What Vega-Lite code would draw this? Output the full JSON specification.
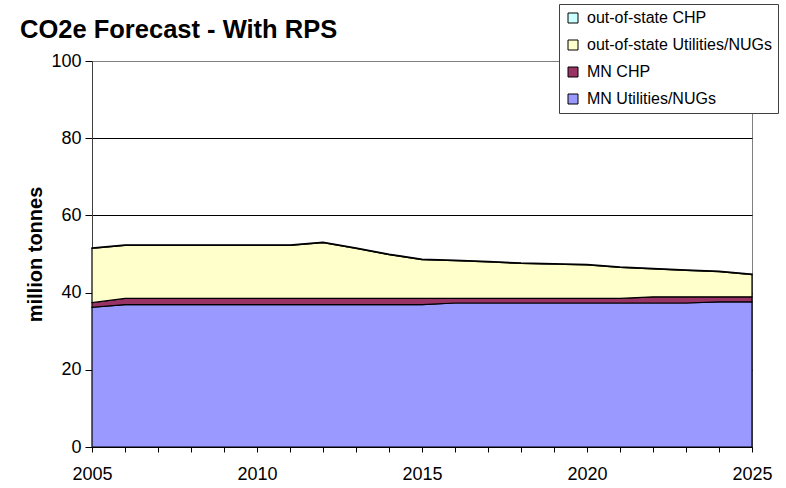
{
  "$schema": "https://vega.github.io/schema/vega-lite/v6.json",
  "width": 660,
  "height": 386,
  "autosize": {"type": "none"},
  "padding": {"left": 92, "top": 61, "right": 34, "bottom": 41},
  "background": "white",
  "title": {
    "text": "CO2e Forecast - With RPS",
    "anchor": "start",
    "frame": "group",
    "dx": -72,
    "dy": 60,
    "offset": 20,
    "font": "Liberation Sans",
    "fontSize": 25.5,
    "fontWeight": "bold",
    "color": "black"
  },
  "data": {
    "values": [
      {"year": 2005, "MN Utilities/NUGs": 36.2, "MN CHP": 1.2, "out-of-state Utilities/NUGs": 14.05, "out-of-state CHP": 0.15},
      {"year": 2006, "MN Utilities/NUGs": 36.9, "MN CHP": 1.6, "out-of-state Utilities/NUGs": 13.75, "out-of-state CHP": 0.15},
      {"year": 2007, "MN Utilities/NUGs": 36.9, "MN CHP": 1.6, "out-of-state Utilities/NUGs": 13.75, "out-of-state CHP": 0.15},
      {"year": 2008, "MN Utilities/NUGs": 36.9, "MN CHP": 1.6, "out-of-state Utilities/NUGs": 13.75, "out-of-state CHP": 0.15},
      {"year": 2009, "MN Utilities/NUGs": 36.9, "MN CHP": 1.6, "out-of-state Utilities/NUGs": 13.75, "out-of-state CHP": 0.15},
      {"year": 2010, "MN Utilities/NUGs": 36.9, "MN CHP": 1.6, "out-of-state Utilities/NUGs": 13.75, "out-of-state CHP": 0.15},
      {"year": 2011, "MN Utilities/NUGs": 36.9, "MN CHP": 1.6, "out-of-state Utilities/NUGs": 13.75, "out-of-state CHP": 0.15},
      {"year": 2012, "MN Utilities/NUGs": 36.9, "MN CHP": 1.6, "out-of-state Utilities/NUGs": 14.45, "out-of-state CHP": 0.15},
      {"year": 2013, "MN Utilities/NUGs": 36.9, "MN CHP": 1.6, "out-of-state Utilities/NUGs": 12.95, "out-of-state CHP": 0.15},
      {"year": 2014, "MN Utilities/NUGs": 36.9, "MN CHP": 1.6, "out-of-state Utilities/NUGs": 11.35, "out-of-state CHP": 0.15},
      {"year": 2015, "MN Utilities/NUGs": 36.9, "MN CHP": 1.6, "out-of-state Utilities/NUGs": 10.05, "out-of-state CHP": 0.15},
      {"year": 2016, "MN Utilities/NUGs": 37.3, "MN CHP": 1.2, "out-of-state Utilities/NUGs": 9.75, "out-of-state CHP": 0.15},
      {"year": 2017, "MN Utilities/NUGs": 37.3, "MN CHP": 1.2, "out-of-state Utilities/NUGs": 9.45, "out-of-state CHP": 0.15},
      {"year": 2018, "MN Utilities/NUGs": 37.3, "MN CHP": 1.2, "out-of-state Utilities/NUGs": 9.05, "out-of-state CHP": 0.15},
      {"year": 2019, "MN Utilities/NUGs": 37.3, "MN CHP": 1.2, "out-of-state Utilities/NUGs": 8.85, "out-of-state CHP": 0.15},
      {"year": 2020, "MN Utilities/NUGs": 37.3, "MN CHP": 1.2, "out-of-state Utilities/NUGs": 8.65, "out-of-state CHP": 0.15},
      {"year": 2021, "MN Utilities/NUGs": 37.3, "MN CHP": 1.2, "out-of-state Utilities/NUGs": 8.05, "out-of-state CHP": 0.15},
      {"year": 2022, "MN Utilities/NUGs": 37.3, "MN CHP": 1.6, "out-of-state Utilities/NUGs": 7.25, "out-of-state CHP": 0.15},
      {"year": 2023, "MN Utilities/NUGs": 37.3, "MN CHP": 1.6, "out-of-state Utilities/NUGs": 6.85, "out-of-state CHP": 0.15},
      {"year": 2024, "MN Utilities/NUGs": 37.6, "MN CHP": 1.3, "out-of-state Utilities/NUGs": 6.55, "out-of-state CHP": 0.15},
      {"year": 2025, "MN Utilities/NUGs": 37.6, "MN CHP": 1.3, "out-of-state Utilities/NUGs": 5.75, "out-of-state CHP": 0.15}
    ]
  },
  "transform": [
    {"fold": ["MN Utilities/NUGs", "MN CHP", "out-of-state Utilities/NUGs", "out-of-state CHP"], "as": ["series", "value"]},
    {"calculate": "indexof(['MN Utilities/NUGs', 'MN CHP', 'out-of-state Utilities/NUGs', 'out-of-state CHP'], datum.series)", "as": "stackOrder"}
  ],
  "mark": {"type": "area", "stroke": "black", "strokeWidth": 1.2, "interpolate": "linear", "opacity": 1, "fillOpacity": 1},
  "encoding": {
    "x": {
      "field": "year",
      "type": "quantitative",
      "scale": {"domain": [2005, 2025], "nice": false, "zero": false},
      "axis": {
        "title": null,
        "values": [2005, 2006, 2007, 2008, 2009, 2010, 2011, 2012, 2013, 2014, 2015, 2016, 2017, 2018, 2019, 2020, 2021, 2022, 2023, 2024, 2025],
        "format": "d",
        "labelExpr": "datum.value % 5 == 0 ? datum.label : ''",
        "labelOverlap": false,
        "labelFlush": false,
        "grid": false,
        "tickSize": 5,
        "tickColor": "black",
        "domainColor": "black",
        "labelFont": "Liberation Sans",
        "labelFontSize": 18,
        "labelColor": "black",
        "labelPadding": 13
      }
    },
    "y": {
      "field": "value",
      "type": "quantitative",
      "stack": "zero",
      "scale": {"domain": [0, 100], "nice": false},
      "axis": {
        "title": "million tonnes",
        "values": [0, 20, 40, 60, 80, 100],
        "grid": true,
        "gridColor": {"condition": {"test": "datum.value == 100", "value": "#808080"}, "value": "black"},
        "gridWidth": 1,
        "tickSize": 7,
        "tickColor": "black",
        "domainColor": "#404040",
        "labelFont": "Liberation Sans",
        "labelFontSize": 18,
        "labelColor": "black",
        "labelPadding": 4,
        "titleFont": "Liberation Sans",
        "titleFontSize": 20,
        "titleFontWeight": "bold",
        "titleColor": "black",
        "titlePadding": 5
      }
    },
    "color": {
      "field": "series",
      "type": "nominal",
      "scale": {
        "domain": ["out-of-state CHP", "out-of-state Utilities/NUGs", "MN CHP", "MN Utilities/NUGs"],
        "range": ["#CCFFFF", "#FFFFCC", "#993366", "#9999FF"]
      },
      "legend": {
        "title": null,
        "orient": "none",
        "legendX": 467,
        "legendY": -57,
        "symbolType": "square",
        "symbolSize": 100,
        "symbolStrokeColor": "black",
        "symbolStrokeWidth": 1,
        "symbolOpacity": 1,
        "labelFont": "Liberation Sans",
        "labelFontSize": 16,
        "labelColor": "black",
        "labelLimit": 300,
        "labelOffset": 6,
        "rowPadding": 11,
        "padding": 6,
        "fillColor": "white",
        "strokeColor": "#404040"
      }
    },
    "order": {"field": "stackOrder", "type": "quantitative"}
  },
  "config": {
    "view": {"stroke": "#808080", "strokeWidth": 1}
  }
}
